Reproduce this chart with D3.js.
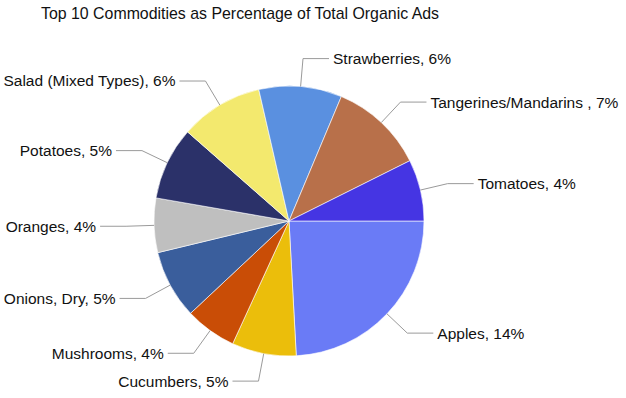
<!DOCTYPE html>
<html>
<head>
<meta charset="utf-8">
<script src="https://cdn.jsdelivr.net/npm/d3@7"></script>
<style>
  body { margin: 0; background: #fff; }
  svg text { font-family: "Liberation Sans", Arial, sans-serif; fill: #111; }
</style>
</head>
<body>
<svg id="chart" width="626" height="398"></svg>
<script>
// commodities, clockwise from 3 o'clock
var commodities = ["Apples", "Cucumbers", "Mushrooms", "Onions, Dry", "Oranges", "Potatoes",
                   "Salad (Mixed Types)", "Strawberries", "Tangerines/Mandarins ", "Tomatoes"]
var shares = [14.1, 4.5, 3.6, 4.8, 3.8, 5.1, 5.8, 5.8, 6.6, 4.3]
var sliceColors = ["#6a7bf6", "#ebbe0b", "#c94d06", "#3a5e9c", "#bfbfbf", "#2b3169",
                   "#f3e96e", "#5a90e0", "#b8704a", "#4535e3"]

var svg = d3.select("#chart")
var cx = 289, cy = 221, radius = 135

svg.append("text")
	.attr("x", 240)
	.attr("y", 19)
	.attr("text-anchor", "middle")
	.style("font-size", "15.9px")
	.text("Top 10 Commodities as Percentage of Total Organic Ads")

var data = commodities.map(function(c, i){
	return {name: c, value: shares[i], color: sliceColors[i]}
})

var pie = d3.pie()
	.sort(null)
	.value(function(d){ return d.value })
	.startAngle(Math.PI / 2)
	.endAngle(Math.PI / 2 + 2 * Math.PI)

var arc = d3.arc().innerRadius(0).outerRadius(radius)

var g = svg.append("g").attr("transform", "translate(" + cx + "," + cy + ")")

var slices = pie(data)

g.selectAll(".slice")
	.data(slices)
	.enter()
	.append("path")
	.attr("class", "slice")
	.attr("d", arc)
	.attr("fill", function(d){ return d.data.color })
	.attr("stroke", "#fff")
	.attr("stroke-width", 0.6)

//leader lines: edge -> knee -> horizontal run
function pt(a, r){ return [Math.sin(a) * r, -Math.cos(a) * r] }
var kneeR = 163, run = 26

slices.forEach(function(d){
	var mid = (d.startAngle + d.endAngle) / 2
	var p0 = pt(mid, radius)
	var p1 = pt(mid, kneeR)
	var side = p1[0] >= 0 ? 1 : -1
	var p2 = [p1[0] + side * run, p1[1]]

	g.append("polyline")
		.attr("points", [p0, p1, p2].map(function(p){ return p.join(",") }).join(" "))
		.attr("fill", "none")
		.attr("stroke", "#9a9a9a")
		.attr("stroke-width", 1)

	g.append("text")
		.attr("x", p2[0] + side * 4)
		.attr("y", p2[1])
		.attr("dy", "0.35em")
		.attr("text-anchor", side > 0 ? "start" : "end")
		.style("font-size", "15.5px")
		.text(d.data.name + ", " + Math.round(d.data.value) + "%")
})
</script>
</body>
</html>
